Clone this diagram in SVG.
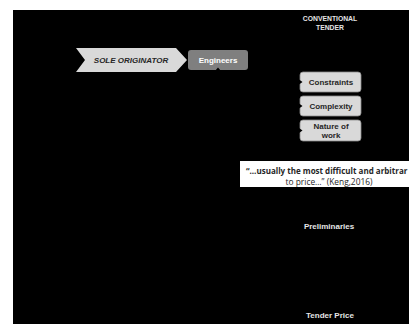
<svg xmlns="http://www.w3.org/2000/svg" width="409" height="324" viewBox="0 0 409 324">
<style>
.lbl{font-family:"Liberation Sans",Arial,sans-serif;font-weight:bold;font-size:8px;text-anchor:middle}
.box{fill:#d9d9d9;stroke:#8c8c8c;stroke-width:0.8}
.dark{fill:#262626}
.light{fill:#e6e6e6}
.tip{fill:#000}
.q{font-family:"Open Sans","Liberation Sans",sans-serif;fill:#262626}
</style>
<rect x="0" y="0" width="409" height="324" fill="#fff"/>
<rect x="13" y="10" width="396" height="314" fill="#000"/>
<g id="title"><text class="lbl light" x="330" y="21" style="font-size:6.8px">CONVENTIONAL</text><text class="lbl light" x="330" y="30" style="font-size:6.8px">TENDER</text></g>
<g id="sole-originator"><polygon points="76,48 176,48 187,60 176,72 76,72 85,60" fill="#d9d9d9"/><text class="lbl dark" x="131" y="63" font-style="italic">SOLE ORIGINATOR</text></g>
<g id="engineers"><rect x="188" y="50" width="60" height="20" rx="3" fill="#7f7f7f"/><text class="lbl" x="218" y="63" fill="#fff">Engineers</text></g>
<g id="constraints"><rect class="box" x="300" y="72" width="61" height="20" rx="3"/><text class="lbl dark" x="331" y="85">Constraints</text></g>
<g id="complexity"><rect class="box" x="300" y="96" width="61" height="20" rx="3"/><text class="lbl dark" x="331" y="109">Complexity</text></g>
<g id="nature"><rect class="box" x="300" y="120" width="61" height="21" rx="3"/><text class="lbl dark" x="331" y="129">Nature of</text><text class="lbl dark" x="331" y="138">work</text></g>
<g id="quote"><rect x="240" y="161" width="171" height="26" fill="#fff"/><text class="q" x="246" y="173.5" style="font-weight:bold;font-size:8px">“…usually the most difficult and arbitrar</text><text class="q" x="329" y="184.5" text-anchor="middle" style="font-size:8.4px">to price…” (Keng,2016)</text></g>
<g id="preliminaries"><text class="lbl light" x="329" y="229">Preliminaries</text></g>
<g id="tender-price"><text class="lbl light" x="330" y="318">Tender Price</text></g>
<g id="connectors"><polygon class="tip" points="215,71 221,71 218,67.5"/><polygon class="tip" points="299,79.5 299,84.5 302.5,82"/><polygon class="tip" points="299,103.5 299,108.5 302.5,106"/><polygon class="tip" points="299,128 299,133 302.5,130.5"/></g>
</svg>
